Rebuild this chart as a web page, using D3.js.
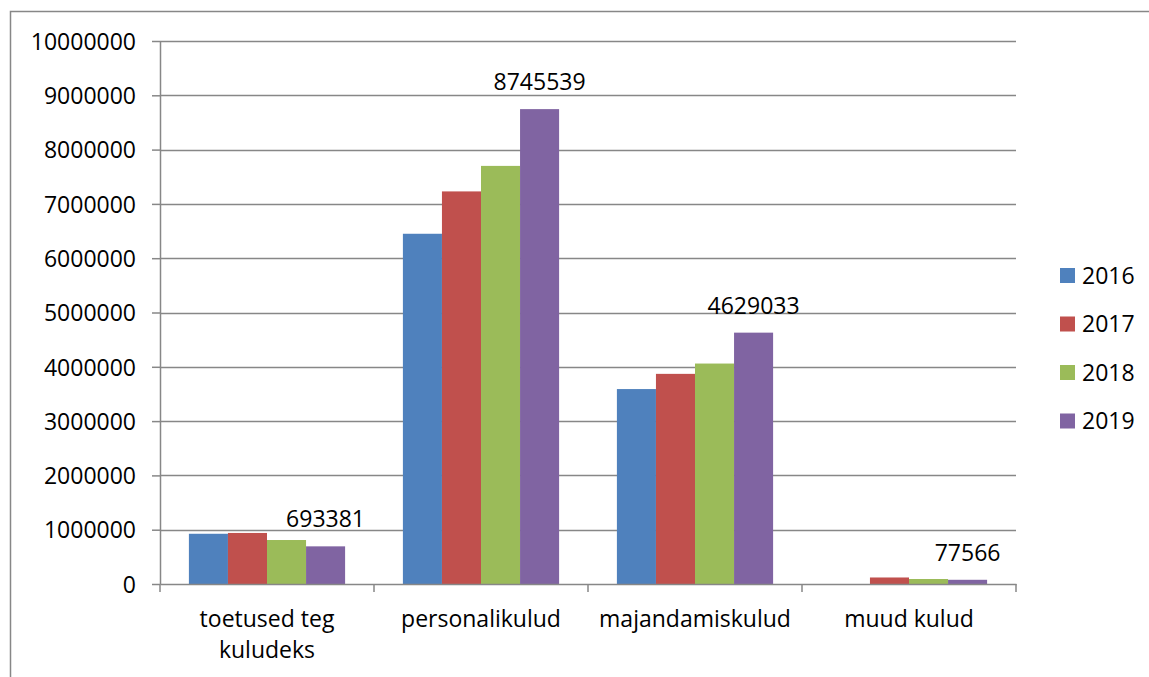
<!DOCTYPE html>
<html>
<head>
<meta charset="utf-8">
<script src="https://cdn.jsdelivr.net/npm/d3@7"></script>
<style>
  body { margin: 0; background: #fff; }
  text { font-family: "Open Sans", sans-serif; fill: #000; }
</style>
</head>
<body>
<div id="chart"></div>
<script>
// categories and series
var categories = [["toetused teg", "kuludeks"], ["personalikulud"], ["majandamiskulud"], ["muud kulud"]];
var years = ["2016", "2017", "2018", "2019"];
var colors = ["#4F81BD", "#C0504D", "#9BBB59", "#8064A2"];

var s2016 = [925000, 6450000, 3590000, 0];
var s2017 = [940000, 7230000, 3870000, 120000];
var s2018 = [810000, 7700000, 4060000, 92000];
var s2019 = [693381, 8745539, 4629033, 77566];

var series = [s2016, s2017, s2018, s2019];
var yTicks = [0, 1000000, 2000000, 3000000, 4000000, 5000000, 6000000, 7000000, 8000000, 9000000, 10000000];

var svgWidth = 1149, svgHeight = 677;
var margin = { top: 41, left: 160, right: 133, bottom: 93 };
var width = svgWidth - margin.left - margin.right;
var height = svgHeight - margin.top - margin.bottom;

var svg = d3.select("#chart").append("svg")
  .attr("width", svgWidth)
  .attr("height", svgHeight);

// outer frame (runs off the right and bottom edges)
svg.append("rect")
  .attr("x", 10.5).attr("y", 11.5)
  .attr("width", 1200).attr("height", 700)
  .attr("fill", "none")
  .attr("stroke", "#878787")
  .attr("stroke-width", 1.5);

var chartGroup = svg.append("g")
  .attr("transform", `translate(${margin.left}, ${margin.top})`);

var catKeys = categories.map(c => c.join(" "));

var x0 = d3.scaleBand().domain(catKeys).range([0, width]);
var x1 = d3.scaleBand().domain(years).range([0, x0.bandwidth()]).paddingOuter(0.74);
var y = d3.scaleLinear().domain([0, 10000000]).range([height, 0]);

// gridlines
chartGroup.append("g").selectAll("line")
  .data(yTicks.slice(1))
  .enter().append("line")
  .attr("x1", 0).attr("x2", width)
  .attr("y1", d => Math.round(y(d)) + 0.5).attr("y2", d => Math.round(y(d)) + 0.5)
  .attr("stroke", "#878787")
  .attr("stroke-width", 1.5);

// bars
var groups = chartGroup.selectAll(".cat")
  .data(catKeys)
  .enter().append("g")
  .attr("transform", d => `translate(${x0(d)},0)`);

groups.selectAll("rect")
  .data((d, i) => years.map((yr, j) => ({ yr: yr, v: series[j][i], c: colors[j] })))
  .enter().append("rect")
  .attr("x", d => x1(d.yr))
  .attr("width", x1.bandwidth())
  .attr("y", d => y(d.v))
  .attr("height", d => height - y(d.v))
  .attr("fill", d => d.c);

// data labels, 2019 only
groups.append("text")
  .attr("x", x1("2019") + x1.bandwidth() / 2)
  .attr("y", (d, i) => y(s2019[i]) - 19)
  .attr("text-anchor", "middle")
  .style("font-size", "23px")
  .text((d, i) => s2019[i]);

// y axis
var leftAxis = d3.axisLeft(y).tickValues(yTicks).tickSize(8).tickSizeOuter(0).tickFormat(d3.format("d"));
var yAxis = chartGroup.append("g").call(leftAxis);
yAxis.select(".domain").attr("stroke", "#878787").attr("stroke-width", 1.5);
yAxis.selectAll(".tick line").attr("stroke", "#878787").attr("stroke-width", 1.5);
yAxis.selectAll(".tick text").attr("x", -24).attr("dy", "0.36em").style("font-size", "23px");

// x axis
var bottomAxis = d3.axisBottom(x0).tickSize(0).tickFormat("");
var xAxis = chartGroup.append("g")
  .attr("transform", `translate(0, ${height})`)
  .call(bottomAxis);
xAxis.select(".domain").attr("stroke", "#878787").attr("stroke-width", 1.5);

// tick marks between categories
xAxis.selectAll(".sep")
  .data(d3.range(catKeys.length + 1))
  .enter().append("line")
  .attr("x1", d => d * x0.step()).attr("x2", d => d * x0.step())
  .attr("y1", 0).attr("y2", 8)
  .attr("stroke", "#878787").attr("stroke-width", 1.5);

// category labels
categories.forEach(function(lines, i) {
  var cx = x0(catKeys[i]) + x0.bandwidth() / 2;
  var t = xAxis.append("text")
    .attr("x", cx)
    .attr("y", 43)
    .attr("text-anchor", "middle")
    .style("font-size", "23px");
  lines.forEach(function(l, k) {
    t.append("tspan")
      .attr("x", cx)
      .attr("dy", k === 0 ? 0 : 31)
      .text(l);
  });
});

// legend
var legend = svg.append("g").attr("transform", "translate(1060, 268)");
var items = legend.selectAll("g")
  .data(years)
  .enter().append("g")
  .attr("transform", (d, i) => `translate(0, ${i * 48.5})`);
items.append("rect")
  .attr("width", 15).attr("height", 15)
  .attr("fill", (d, i) => colors[i]);
items.append("text")
  .attr("x", 22).attr("y", 7.5)
  .attr("dy", "0.36em")
  .style("font-size", "23px")
  .text(d => d);
</script>
</body>
</html>
